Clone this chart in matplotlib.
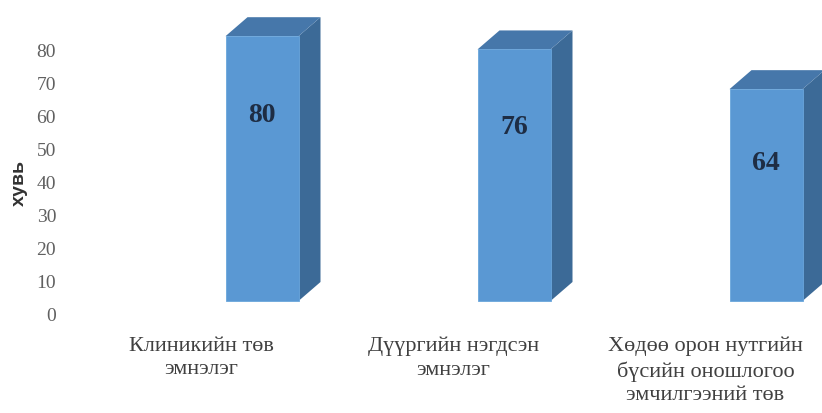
import matplotlib
matplotlib.use("Agg")
import matplotlib.pyplot as plt
from matplotlib.patches import Polygon

categories = ["Клиникийн төв\nэмнэлэг",
              "Дүүргийн нэгдсэн\nэмнэлэг",
              "Хөдөө орон нутгийн\nбүсийн оношлогоо\nэмчилгээний төв"]
values = [80, 76, 64]
yticks = [0, 10, 20, 30, 40, 50, 60, 70, 80]
ylabel = "хувь"

W, H = 822, 414
fig = plt.figure(figsize=(W / 100, H / 100), dpi=100)
ax_left, ax_right, ax_top, ax_bottom = 70, 822, 0, 330
ax = fig.add_axes([ax_left / W, (H - ax_bottom) / H,
                   (ax_right - ax_left) / W, (ax_bottom - ax_top) / H])

px_per_x = 252.0
x0_px = 262.0
px_per_y = 3.31
y0_px = 315.0
ax.set_xlim((ax_left - x0_px) / px_per_x, (ax_right - x0_px) / px_per_x)
ax.set_ylim((y0_px - ax_bottom) / px_per_y, (y0_px - ax_top) / px_per_y)

front = "#5a98d3"
side = "#3c6a97"
topc = "#4677aa"
base = (y0_px - 302) / px_per_y
bw = 73 / px_per_x
dx = 22 / px_per_x
dy = 19 / px_per_y

xs = list(range(len(values)))
ax.bar(xs, values, width=bw, bottom=base, color=front, edgecolor="#6aa6dc",
       linewidth=0.6, zorder=3)
for x, v in zip(xs, values):
    top = base + v
    r = x + bw / 2
    l = x - bw / 2
    ax.add_patch(Polygon([(r, base), (r + dx, base + dy), (r + dx, top + dy), (r, top)],
                         closed=True, facecolor=side, edgecolor="none", zorder=2))
    ax.add_patch(Polygon([(l, top), (r, top), (r + dx, top + dy), (l + dx, top + dy)],
                         closed=True, facecolor=topc, edgecolor="none", zorder=2))
    ax.text(x, base + 0.89 * v - 15, str(v), ha="center", va="center",
            family="Liberation Serif", fontsize=20, fontweight="bold",
            color="#1e2d44", zorder=5)

ax.set_yticks(yticks)
ax.set_yticklabels([str(t) for t in yticks], family="Liberation Serif",
                   fontsize=14, color="#606060")
ax.set_xticks([x - 0.24 for x in xs])
ax.set_xticklabels(categories, family="Liberation Serif", fontsize=16,
                   color="#404040", linespacing=1.3)
ax.tick_params(axis="y", length=0, pad=10)
ax.tick_params(axis="x", length=0, pad=5)
for s in ax.spines.values():
    s.set_visible(False)

ax.set_ylabel(ylabel, family="Liberation Sans", fontsize=14, fontweight="bold",
              color="#333333")
ax.yaxis.set_label_coords((28 - ax_left) / (ax_right - ax_left),
                          (ax_bottom - 183) / (ax_bottom - ax_top))

fig.savefig("out.png", dpi=100)
